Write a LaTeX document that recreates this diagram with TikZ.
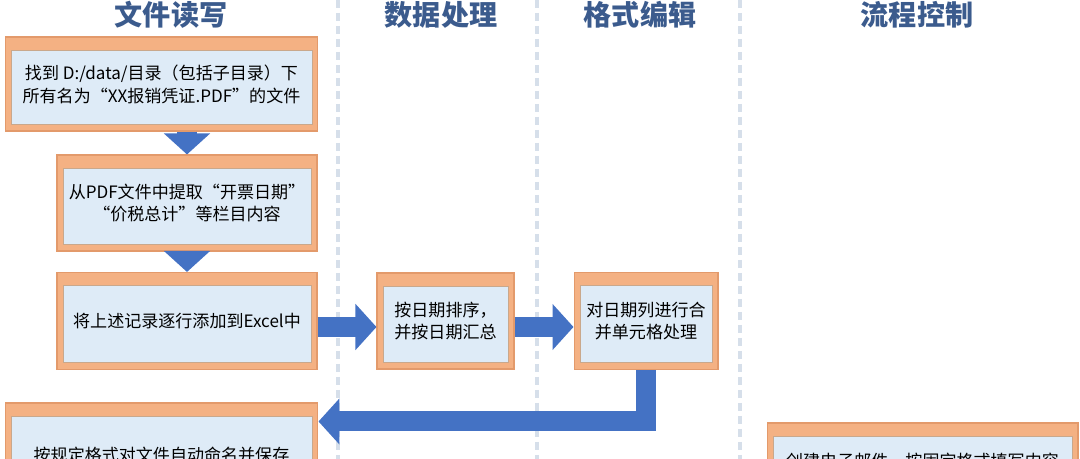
\documentclass[tikz,border=0pt]{standalone}
\usepackage{fontspec}
\setmainfont{Noto Sans CJK SC}
\newfontfamily\cjk{Noto Sans CJK SC}
\usepackage{xcolor}
\usetikzlibrary{positioning, arrows.meta}

\definecolor{boxorange}{HTML}{F4B183}
\definecolor{boxedge}{HTML}{E39A6B}
\definecolor{innerblue}{HTML}{DEEBF7}
\definecolor{inneredge}{HTML}{C9A88C}
\definecolor{arrowblue}{HTML}{4472C4}
\definecolor{lanegray}{HTML}{D6DFEA}
\definecolor{headblue}{HTML}{3B5B8D}

\begin{document}
\begin{tikzpicture}[
    x=0.02cm, y=-0.02cm,
    node distance=1.18cm,
    lanehead/.style={font=\cjk\bfseries\fontsize{16}{18}\selectfont, text=headblue},
    lane/.style={draw=lanegray, line width=0.07cm, dash pattern=on 0.16cm off 0.1cm},
    stepbox/.style={draw=boxedge, fill=boxorange, line width=0.6pt, align=center, inner sep=0pt,
        font=\cjk\fontsize{9.7}{13}\selectfont,
        path picture={\draw[draw=inneredge, fill=innerblue, line width=0.5pt]
            ([shift={(0.12cm,0.14cm)}]path picture bounding box.south west) rectangle
            ([shift={(-0.12cm,-0.26cm)}]path picture bounding box.north east);}},
    blockarrow/.style={draw=arrowblue, line width=0.4cm, -{Triangle[length=0.42cm, width=0.9cm]}}
]
\useasboundingbox (0,0) rectangle (1080,459);
\clip (0,0) rectangle (1080,459);

% lanes
\foreach \x in {338,537,740}
    \draw[lane] (\x,0) -- (\x,459);

\node[lanehead] (h1) at (171,15) {文件读写};
\node[lanehead] (h2) at (441,15) {数据处理};
\node[lanehead] (h3) at (640,15) {格式编辑};
\node[lanehead] (h4) at (917,15) {流程控制};

% boxes
\node[stepbox, minimum width=6.26cm, minimum height=1.88cm] (find) at (161.5,84)
    {找到 D:/data/目录（包括子目录）下\\所有名为“XX报销凭证.PDF”的文件};
\node[stepbox, minimum width=5.2cm, minimum height=1.92cm] (extract) at (187,203)
    {从PDF文件中提取“开票日期”\\“价税总计”等栏目内容};
\node[stepbox, minimum width=5.2cm, minimum height=1.94cm] (append) at (187,321)
    {将上述记录逐行添加到Excel中};
\node[stepbox, minimum width=2.74cm, minimum height=1.92cm, right=of append] (sort)
    {按日期排序，\\并按日期汇总};
\node[stepbox, minimum width=2.88cm, minimum height=1.94cm, right=of sort] (merge)
    {对日期列进行合\\并单元格处理};
\node[stepbox, minimum width=6.26cm, minimum height=2.08cm] (rename) at (161.5,455)
    {按规定格式对文件自动命名并保存};
\node[stepbox, minimum width=6.22cm, minimum height=1.52cm] (mail) at (922.5,461)
    {创建电子邮件，按固定格式填写内容};

% arrows
\draw[blockarrow] (find.south -| extract.north) -- (extract.north);
\draw[blockarrow] (extract.south) -- (append.north);
\draw[blockarrow] ([yshift=-0.12cm]append.east) -- ([yshift=-0.12cm]append.east -| sort.west);
\draw[blockarrow] ([yshift=-0.12cm]sort.east) -- ([yshift=-0.12cm]sort.east -| merge.west);
\draw[blockarrow] (merge.south) |- ([yshift=-0.38cm]rename.north east);
\end{tikzpicture}
\end{document}
